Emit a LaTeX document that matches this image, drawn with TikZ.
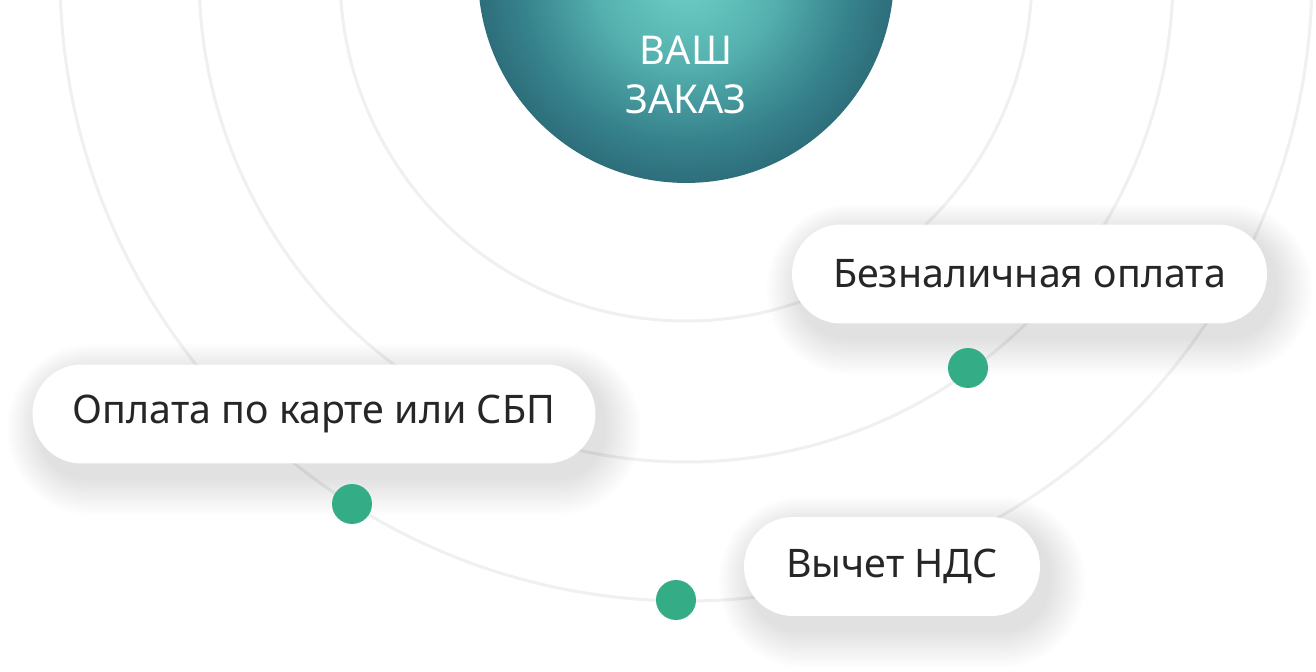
\documentclass[tikz,border=0pt]{standalone}
\usepackage{fontspec}
\setmainfont{Noto Sans}
\usetikzlibrary{backgrounds}
\pgfdeclarelayer{shadow}
\pgfsetlayers{background,shadow,main}
\definecolor{ringgray}{RGB}{240,240,240}
\definecolor{dotgreen}{RGB}{52,173,135}
\definecolor{labelink}{RGB}{38,38,38}
\definecolor{orderhi}{RGB}{112,210,200}
\definecolor{orderup}{RGB}{84,176,174}
\definecolor{ordermid}{RGB}{54,130,140}
\definecolor{orderdeep}{RGB}{32,78,96}
\definecolor{orderlo}{RGB}{24,52,74}
\pgfdeclareradialshading{orderglow}{\pgfpoint{0bp}{0bp}}{%
  color(0bp)=(orderhi); color(11bp)=(orderup); color(20bp)=(ordermid);
  color(33bp)=(orderdeep); color(50bp)=(orderlo)}
\tikzset{
  ring/.style={draw=ringgray,line width=0.06cm},
  order/.style={circle,shade,shading=orderglow,minimum size=8.32cm,inner sep=0pt},
  ordertext/.style={text=white,align=center,font=\fontsize{22.6}{28.4}\selectfont},
  pill/.style={fill=white,rounded corners=0.98cm,minimum height=1.98cm,inner sep=0pt,
               text=labelink,font=\fontsize{22.4}{26}\selectfont},
  pillshade/.style={fill=black,opacity=0.0065},
  stepdot/.style={circle,fill=dotgreen,minimum size=0.8cm,inner sep=0pt},
}
\begin{document}
\begin{tikzpicture}[x=0.02cm,y=-0.02cm]
  \path[use as bounding box] (0,0) rectangle (1316,672);
  \clip (0,0) rectangle (1316,672);

  % central disc and the rings round it
  \node[order] (order) at (686,-25) {};
  \node[ordertext] (ordertxt) at (686,75) {ВАШ\\ЗАКАЗ};
  \begin{pgfonlayer}{background}
    \fill[white] (0,0) rectangle (1316,672);
    \foreach \r in {346,487,626}
      \draw[ring] (order.center) circle[radius=\r];
  \end{pgfonlayer}

  \node[pill,minimum width=9.5cm]  (cashless) at (1029.5,274) {Безналичная оплата};
  \node[pill,minimum width=11.26cm] (card)    at (314,414)    {Оплата по карте или СБП};
  \node[pill,minimum width=5.92cm] (vat)      at (892,566.5)  {Вычет НДС};

  % soft shadows under the pills
  \begin{pgfonlayer}{shadow}
    \foreach \p in {cashless,card,vat}
      \foreach \k in {0,...,14}
        \fill[pillshade,rounded corners={0.98cm+\k*0.05cm}]
          ([shift={(6-\k*2.2,8-\k*2)}]\p.north west)
          rectangle ([shift={(10+\k*2.5,16+\k*2.5)}]\p.south east);
  \end{pgfonlayer}

  \node[stepdot] (cashlessdot) at (968,368) {};
  \node[stepdot] (carddot)     at (352,504) {};
  \node[stepdot] (vatdot)      at (676,600) {};
\end{tikzpicture}
\end{document}
